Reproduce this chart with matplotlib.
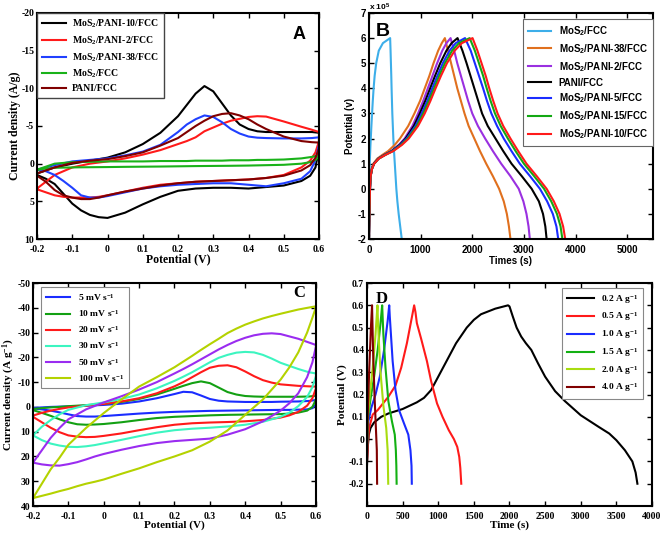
import numpy as np
import matplotlib.pyplot as plt

plt.rcParams['mathtext.default'] = 'regular'

SERIF = 'Liberation Serif'
SANS = 'Liberation Sans'

# -------------------------------
# Panel A: CV of the electrodes
# -------------------------------
pot_fwd_a = [-0.2, -0.15, -0.1, -0.05, 0.0, 0.05, 0.1, 0.15, 0.2, 0.225, 0.25, 0.275,
             0.3, 0.325, 0.35, 0.375, 0.4, 0.425, 0.45, 0.5, 0.55, 0.58, 0.6]
pot_rev_a = [0.6, 0.59, 0.575, 0.55, 0.5, 0.45, 0.4, 0.35, 0.3, 0.25, 0.2, 0.15, 0.1,
             0.05, 0.0, -0.025, -0.05, -0.075, -0.1, -0.125, -0.15, -0.175, -0.2]

labels_a = ['MoS$_2$/PANI-10/FCC', 'MoS$_2$/PANI-2/FCC', 'MoS$_2$/PANI-38/FCC',
            'MoS$_2$/FCC', 'PANI/FCC']
colors_a = ['#000000', '#ff1a1a', '#2040ff', '#19b219', '#800000']

fwd_a = [
    [1.3, 0.5, 0.0, -0.4, -0.8, -1.5, -2.6, -4.1, -6.3, -7.8, -9.3, -10.3,
     -9.6, -8.0, -6.4, -5.2, -4.6, -4.3, -4.2, -4.2, -4.2, -4.2, -4.1],
    [3.3, 1.5, 0.5, 0.0, -0.3, -0.7, -1.2, -1.8, -2.6, -3.0, -3.5, -4.3,
     -4.8, -5.3, -5.7, -5.95, -6.2, -6.3, -6.25, -5.6, -4.9, -4.5, -4.2],
    [0.8, 0.2, -0.3, -0.5, -0.7, -1.1, -1.6, -2.5, -4.2, -5.2, -5.9, -6.4,
     -6.2, -5.5, -4.6, -4.0, -3.6, -3.45, -3.4, -3.35, -3.35, -3.4, -3.5],
    [0.8, 0.0, -0.2, -0.25, -0.3, -0.3, -0.3, -0.35, -0.35, -0.35, -0.4, -0.4,
     -0.4, -0.4, -0.45, -0.45, -0.45, -0.5, -0.5, -0.55, -0.7, -0.9, -1.1],
    [1.3, 0.5, -0.1, -0.4, -0.6, -1.0, -1.5, -2.4, -3.4, -4.2, -5.0, -5.7,
     -6.3, -6.6, -6.7, -6.4, -5.9, -5.2, -4.6, -3.6, -3.0, -2.85, -2.8],
]
rev_a = [
    [-2.0, 0.5, 1.6, 2.3, 2.9, 3.1, 3.3, 3.2, 3.2, 3.3, 3.6, 4.4, 5.4,
     6.5, 7.2, 7.1, 6.8, 6.2, 5.3, 4.0, 2.7, 2.0, 1.5],
    [-3.0, -1.5, -0.4, 0.5, 1.5, 1.9, 2.1, 2.2, 2.3, 2.4, 2.6, 2.8, 3.2,
     3.7, 4.2, 4.4, 4.5, 4.5, 4.5, 4.4, 4.2, 3.8, 3.4],
    [-2.5, -0.5, 1.0, 2.0, 2.6, 3.0, 2.8, 2.6, 2.6, 2.7, 2.8, 3.0, 3.3,
     3.8, 4.3, 4.5, 4.5, 4.2, 3.2, 2.3, 1.5, 1.0, 0.8],
    [-0.9, -0.5, -0.2, 0.0, 0.15, 0.2, 0.25, 0.28, 0.3, 0.32, 0.35, 0.38, 0.4,
     0.42, 0.45, 0.46, 0.47, 0.48, 0.5, 0.52, 0.55, 0.65, 0.8],
    [-2.0, -0.8, 0.2, 0.9, 1.6, 1.9, 2.1, 2.2, 2.3, 2.4, 2.6, 2.9, 3.3,
     3.7, 4.2, 4.5, 4.7, 4.7, 4.5, 4.2, 3.5, 2.4, 1.6],
]

# -------------------------------
# Panel B: GCD of the electrodes (potential x 10^5)
# -------------------------------
pot_chg_b = [-2.0, -1.0, 0.0, 0.5, 0.8, 1.0, 1.2, 1.35, 1.5, 1.75, 2.0, 2.5, 3.0,
             3.5, 4.0, 4.5, 5.0, 5.5, 5.8, 6.0]
pot_dis_b = [6.0, 5.5, 5.0, 4.5, 4.0, 3.5, 3.0, 2.5, 2.0, 1.5, 1.0, 0.5, 0.0,
             -0.5, -1.0, -1.5, -2.0]

labels_b = ['MoS$_2$/FCC', 'MoS$_2$/PANI-38/FCC', 'MoS$_2$/PANI-2/FCC', 'PANI/FCC',
            'MoS$_2$/PANI-5/FCC', 'MoS$_2$/PANI-15/FCC', 'MoS$_2$/PANI-10/FCC']
colors_b = ['#3daee9', '#e0701e', '#9a30e0', '#000000', '#1a2cff', '#13a813', '#ff1a1a']

t_chg_b = [
    [0, 3, 8, 11, 13, 15, 18, 21, 24, 29, 35, 47, 60, 74, 90, 110, 140, 190, 270, 410],
    [0, 7, 18, 28, 50, 85, 160, 260, 370, 500, 600, 760, 880, 990, 1080, 1170, 1250, 1340, 1410, 1470],
    [0, 8, 20, 32, 58, 95, 180, 300, 430, 580, 690, 840, 950, 1050, 1140, 1230, 1320, 1420, 1500, 1580],
    [0, 8, 20, 32, 58, 95, 180, 300, 440, 595, 710, 870, 985, 1090, 1185, 1280, 1380, 1500, 1600, 1715],
    [0, 8, 20, 32, 60, 100, 185, 310, 450, 610, 730, 900, 1020, 1130, 1225, 1325, 1430, 1560, 1680, 1860],
    [0, 8, 20, 32, 60, 100, 190, 315, 460, 625, 750, 925, 1050, 1160, 1260, 1360, 1470, 1610, 1740, 1950],
    [0, 8, 20, 32, 60, 100, 190, 320, 470, 640, 770, 950, 1080, 1190, 1290, 1395, 1510, 1660, 1800, 2006],
]
t_dis_b = [
    [410, 418, 425, 432, 438, 445, 452, 462, 472, 485, 500, 515, 530, 550, 575, 605, 635],
    [1470, 1530, 1590, 1650, 1710, 1780, 1850, 1930, 2040, 2150, 2270, 2400, 2520, 2610, 2670, 2710, 2740],
    [1580, 1650, 1710, 1780, 1850, 1920, 2000, 2110, 2250, 2400, 2560, 2740, 2900, 2990, 3050, 3090, 3115],
    [1715, 1810, 1890, 1965, 2040, 2115, 2190, 2300, 2450, 2600, 2760, 2960, 3150, 3290, 3370, 3415, 3440],
    [1860, 1970, 2050, 2130, 2210, 2285, 2370, 2480, 2610, 2760, 2920, 3120, 3310, 3450, 3560, 3630, 3665],
    [1950, 2050, 2130, 2210, 2280, 2355, 2440, 2550, 2690, 2840, 3000, 3200, 3390, 3530, 3640, 3710, 3745],
    [2006, 2100, 2180, 2260, 2330, 2406, 2490, 2600, 2740, 2890, 3050, 3250, 3440, 3580, 3690, 3760, 3800],
]

# -------------------------------
# Panel C: CV at different scan rates
# -------------------------------
pot_fwd_c = [-0.2, -0.175, -0.15, -0.125, -0.1, -0.05, 0.0, 0.05, 0.1, 0.15, 0.2, 0.225, 0.25,
             0.275, 0.3, 0.325, 0.35, 0.375, 0.4, 0.425, 0.45, 0.475, 0.5, 0.55, 0.58, 0.6]
pot_rev_c = [0.6, 0.59, 0.575, 0.55, 0.525, 0.5, 0.45, 0.4, 0.35, 0.3, 0.25, 0.2, 0.15,
             0.1, 0.05, 0.0, -0.025, -0.05, -0.075, -0.1, -0.125, -0.15, -0.175, -0.2]

labels_c = ['5 mV s$^{-1}$', '10 mV s$^{-1}$', '20 mV s$^{-1}$', '30 mV s$^{-1}$',
            '50 mV s$^{-1}$', '100 mV s$^{-1}$']
colors_c = ['#1a2cff', '#13a013', '#ff1a1a', '#3cf5c0', '#9a2cf0', '#b4d200']

fwd_c = [
    [0.4, 0.2, 0.0, -0.1, -0.2, -0.5, -0.8, -1.3, -2.2, -3.5, -5.2, -6.1, -5.9,
     -4.6, -3.2, -2.5, -2.2, -2.1, -2.0, -2.0, -2.0, -2.0, -2.1, -2.2, -2.4, -2.8],
    [0.8, 0.5, 0.2, 0.0, -0.3, -0.7, -1.2, -2.0, -3.2, -5.0, -7.3, -8.5, -9.6,
     -10.3, -9.6, -7.8, -6.0, -5.0, -4.4, -4.2, -4.1, -4.1, -4.1, -4.1, -4.2, -4.5],
    [3.5, 2.4, 1.5, 0.8, 0.2, -0.5, -1.2, -2.2, -3.5, -5.5, -8.3, -10.0, -12.0,
     -14.0, -15.8, -16.6, -16.8, -16.0, -14.3, -12.4, -10.8, -9.8, -9.1, -8.5, -8.3, -8.2],
    [11.5, 8.0, 5.3, 3.0, 1.2, -0.7, -1.8, -3.2, -5.0, -7.5, -10.5, -12.2, -14.0,
     -16.0, -18.0, -19.8, -21.0, -21.9, -22.2, -22.0, -21.0, -19.5, -17.8, -15.3, -14.0, -13.5],
    [22.5, 17.5, 12.5, 8.5, 5.0, 1.0, -1.8, -4.3, -7.0, -10.0, -13.5, -15.3, -17.2,
     -19.2, -21.2, -23.2, -25.0, -26.6, -27.9, -28.9, -29.5, -29.7, -29.4, -27.5, -26.0, -25.0],
    [36.8, 31.0, 25.2, 20.5, 15.3, 8.5, 2.5, -3.0, -8.2, -12.0, -16.0, -18.3, -20.6,
     -23.0, -25.3, -27.5, -29.8, -31.6, -33.2, -34.5, -35.7, -36.7, -37.6, -39.3, -40.1, -40.6],
]
rev_c = [
    [-1.0, 0.5, 1.0, 1.1, 1.2, 1.2, 1.3, 1.4, 1.5, 1.6, 1.8, 2.0, 2.3,
     2.7, 3.2, 3.7, 3.9, 3.9, 3.7, 3.0, 2.2, 1.5, 1.0, 0.6],
    [-3.0, 0.0, 1.5, 2.3, 2.7, 2.9, 3.0, 3.1, 3.2, 3.4, 3.7, 4.0, 4.5,
     5.3, 6.2, 6.9, 7.1, 7.2, 7.0, 6.2, 5.0, 3.6, 2.4, 1.3],
    [-7.5, -3.5, -0.5, 2.0, 3.4, 4.3, 5.3, 5.8, 6.1, 6.3, 6.6, 7.2, 8.2,
     9.4, 10.7, 11.7, 12.1, 12.2, 12.0, 11.5, 10.2, 8.4, 6.2, 4.0],
    [-12.5, -8.0, -4.0, -0.3, 2.3, 4.0, 6.0, 7.2, 7.9, 8.4, 8.8, 9.4, 10.4,
     11.8, 13.3, 14.7, 15.4, 15.9, 16.2, 16.1, 15.6, 14.8, 13.4, 11.5],
    [-24.5, -18.0, -12.0, -5.5, -1.5, 1.5, 5.8, 9.0, 11.2, 12.8, 13.3, 13.8, 14.6,
     15.8, 17.3, 19.0, 20.0, 21.2, 22.3, 23.1, 23.7, 23.6, 23.2, 22.5],
    [-40.3, -36.0, -30.0, -22.0, -16.0, -11.0, -3.0, 3.2, 9.5, 14.0, 17.5, 20.0, 22.3,
     24.8, 27.0, 29.3, 30.2, 31.0, 32.0, 33.1, 34.0, 35.0, 35.9, 36.8],
]

# -------------------------------
# Panel D: GCD at different current densities
# -------------------------------
labels_d = ['0.2 A g$^{-1}$', '0.5 A g$^{-1}$', '1.0 A g$^{-1}$', '1.5 A g$^{-1}$',
            '2.0 A g$^{-1}$', '4.0 A g$^{-1}$']
colors_d = ['#000000', '#ff1a1a', '#1a2cff', '#13b013', '#a8dc10', '#800000']

t_d = [
    [0, 10, 25, 50, 100, 200, 300, 400, 500, 600, 700, 800, 900, 1000, 1100, 1250, 1400,
     1500, 1600, 1800, 1980,
     2000, 2046, 2100, 2164, 2230, 2306, 2400, 2500, 2640, 2779, 3000, 3251, 3400, 3500,
     3620, 3724, 3770, 3795],
    [0, 15, 30, 80, 150, 200, 300, 400, 480, 560, 620, 662,
     680, 700, 760, 841, 900, 983, 1060, 1148, 1220, 1267, 1295, 1310, 1323],
    [0, 10, 20, 60, 120, 180, 240, 290, 312,
     320, 330, 360, 400, 450, 520, 580, 610, 625, 629],
    [0, 8, 15, 50, 100, 150, 190, 213,
     222, 230, 260, 300, 350, 390, 405, 412, 416],
    [0, 5, 10, 40, 80, 120, 147,
     155, 165, 190, 230, 270, 290, 298],
    [0, 5, 10, 30, 55, 71,
     78, 85, 105, 125, 138, 142],
]
v_d = [
    [-0.12, -0.04, 0.02, 0.05, 0.075, 0.1, 0.115, 0.125, 0.135, 0.15, 0.165, 0.185, 0.22, 0.28,
     0.34, 0.43, 0.5, 0.535, 0.56, 0.585, 0.6,
     0.595, 0.55, 0.5, 0.46, 0.43, 0.4, 0.34, 0.28, 0.215, 0.17, 0.107, 0.055, 0.025, -0.005,
     -0.05, -0.1, -0.15, -0.2],
    [-0.1, -0.01, 0.05, 0.11, 0.13, 0.15, 0.19, 0.24, 0.32, 0.43, 0.53, 0.6,
     0.57, 0.52, 0.45, 0.35, 0.26, 0.16, 0.1, 0.04, 0.0, -0.035, -0.08, -0.13, -0.2],
    [-0.05, 0.03, 0.08, 0.14, 0.2, 0.28, 0.4, 0.53, 0.6,
     0.55, 0.5, 0.35, 0.22, 0.13, 0.07, 0.02, -0.05, -0.12, -0.2],
    [-0.05, 0.04, 0.1, 0.18, 0.28, 0.4, 0.52, 0.6,
     0.53, 0.47, 0.32, 0.17, 0.08, 0.02, -0.05, -0.12, -0.2],
    [-0.05, 0.04, 0.1, 0.2, 0.32, 0.47, 0.6,
     0.52, 0.45, 0.3, 0.15, 0.05, -0.05, -0.2],
    [-0.1, 0.0, 0.1, 0.3, 0.5, 0.6,
     0.5, 0.4, 0.2, 0.05, -0.05, -0.2],
]


def style_axis(ax, family, xticks, xlabels, yticks, ylabels):
    ax.set_xticks(xticks)
    ax.set_xticklabels(xlabels, fontfamily=family, fontweight='bold', fontsize=7)
    ax.set_yticks(yticks)
    ax.set_yticklabels(ylabels, fontfamily=family, fontweight='bold', fontsize=7)
    ax.tick_params(direction='in', top=True, right=True, length=3.5, width=1)
    ax.tick_params(axis='x', pad=4)
    ax.tick_params(axis='y', pad=2)
    for s in ax.spines.values():
        s.set_linewidth(1.5)


fig = plt.figure(figsize=(6.61, 5.34), dpi=100)

# ---- A ----
axA = fig.add_axes([0.056, 0.5524, 0.4266, 0.4233])
for i in range(len(labels_a)):
    axA.plot(pot_fwd_a + pot_rev_a, fwd_a[i] + rev_a[i], color=colors_a[i], lw=1.5, label=labels_a[i])
axA.set_xlim(-0.2, 0.6)
axA.set_ylim(10, -20)
style_axis(axA, SERIF, [-0.2, -0.1, 0, 0.1, 0.2, 0.3, 0.4, 0.5, 0.6],
           ['-0.2', '-0.1', '0', '0.1', '0.2', '0.3', '0.4', '0.5', '0.6'],
           [-20, -15, -10, -5, 0, 5, 10], ['-20', '-15', '-10', '-5', '0', '5', '10'])
axA.set_xlabel('Potential (V)', fontfamily=SERIF, fontweight='bold', fontsize=8.5, labelpad=0)
axA.set_ylabel('Current density (A/g)', fontfamily=SERIF, fontweight='bold', fontsize=8.5, labelpad=0)
legA = axA.legend(loc='upper left', bbox_to_anchor=(0, 1), borderaxespad=0,
                  prop={'family': SERIF, 'weight': 'bold', 'size': 7},
                  fancybox=False, edgecolor='#444444', framealpha=1,
                  handlelength=2.5, handletextpad=0.6, labelspacing=0.42, borderpad=0.5)
legA.get_frame().set_linewidth(1.0)
axA.text(0.93, 0.905, 'A', transform=axA.transAxes, ha='center', va='center',
         fontfamily=SANS, fontweight='bold', fontsize=13)

# ---- B ----
axB = fig.add_axes([0.5582, 0.5524, 0.4297, 0.4233])
for i in range(len(labels_b)):
    axB.plot(t_chg_b[i] + t_dis_b[i], pot_chg_b + pot_dis_b, color=colors_b[i], lw=1.5, label=labels_b[i])
axB.set_xlim(0, 5500)
axB.set_ylim(-2, 7)
style_axis(axB, SANS, [0, 1000, 2000, 3000, 4000, 5000],
           ['0', '1000', '2000', '3000', '4000', '5000'],
           list(range(-2, 8)), [str(v) for v in range(-2, 8)])
axB.set_xlabel('Times (s)', fontfamily=SANS, fontweight='bold', fontsize=7, labelpad=1)
axB.set_ylabel('Potential (v)', fontfamily=SANS, fontweight='bold', fontsize=7, labelpad=2)
legB = axB.legend(loc='upper right', bbox_to_anchor=(1, 0.973), borderaxespad=0,
                  prop={'family': SANS, 'weight': 'bold', 'size': 7},
                  fancybox=False, edgecolor='#666666', framealpha=1,
                  handlelength=2.4, handletextpad=0.8, labelspacing=0.42, borderpad=0.5)
legB.get_frame().set_linewidth(0.8)
axB.text(0.05, 0.92, 'B', transform=axB.transAxes, ha='center', va='center',
         fontfamily=SANS, fontweight='bold', fontsize=14)
fig.text(0.558, 0.987, 'x 10$^5$', ha='left', va='center',
         fontfamily=SANS, fontweight='bold', fontsize=6)

# ---- C ----
axC = fig.add_axes([0.0499, 0.0524, 0.4281, 0.4176])
for i in range(len(labels_c)):
    axC.plot(pot_fwd_c + pot_rev_c, fwd_c[i] + rev_c[i], color=colors_c[i], lw=1.5, label=labels_c[i])
axC.set_xlim(-0.2, 0.6)
axC.set_ylim(40, -50)
style_axis(axC, SERIF, [-0.2, -0.1, 0, 0.1, 0.2, 0.3, 0.4, 0.5, 0.6],
           ['-0.2', '-0.1', '0', '0.1', '0.2', '0.3', '0.4', '0.5', '0.6'],
           list(range(-50, 41, 10)), [str(v) for v in range(-50, 41, 10)])
axC.set_xlabel('Potential (V)', fontfamily=SERIF, fontweight='bold', fontsize=8, labelpad=0)
axC.set_ylabel('Current density (A g$^{-1}$)', fontfamily=SERIF, fontweight='bold', fontsize=8, labelpad=0)
legC = axC.legend(loc='upper left', bbox_to_anchor=(0.028, 0.982), borderaxespad=0,
                  prop={'family': SERIF, 'weight': 'bold', 'size': 6.8},
                  fancybox=False, edgecolor='#888888', framealpha=1,
                  handlelength=2.6, labelspacing=0.55, borderpad=0.5)
legC.get_frame().set_linewidth(0.8)
axC.text(0.94, 0.955, 'C', transform=axC.transAxes, ha='center', va='center',
         fontfamily=SERIF, fontweight='bold', fontsize=12)

# ---- D ----
axD = fig.add_axes([0.5552, 0.0524, 0.4312, 0.4176])
for i in range(len(labels_d)):
    axD.plot(t_d[i], v_d[i], color=colors_d[i], lw=1.5, label=labels_d[i])
axD.set_xlim(0, 4000)
axD.set_ylim(-0.3, 0.7)
style_axis(axD, SERIF, list(range(0, 4001, 500)), [str(v) for v in range(0, 4001, 500)],
           [0.7, 0.6, 0.5, 0.4, 0.3, 0.2, 0.1, 0, -0.1, -0.2],
           ['0.7', '0.6', '0.5', '0.4', '0.3', '0.2', '0.1', '0', '-0.1', '-0.2'])
axD.set_xlabel('Time (s)', fontfamily=SERIF, fontweight='bold', fontsize=8, labelpad=0)
axD.set_ylabel('Potential (V)', fontfamily=SERIF, fontweight='bold', fontsize=8, labelpad=1)
legD = axD.legend(loc='upper right', bbox_to_anchor=(0.968, 0.978), borderaxespad=0,
                  prop={'family': SERIF, 'weight': 'bold', 'size': 6.8},
                  fancybox=False, edgecolor='#888888', framealpha=1,
                  handlelength=2.8, labelspacing=0.5, borderpad=0.5)
legD.get_frame().set_linewidth(0.8)
axD.text(0.05, 0.93, 'D', transform=axD.transAxes, ha='center', va='center',
         fontfamily=SERIF, fontweight='bold', fontsize=12)

fig.savefig('out.png', dpi=100)
